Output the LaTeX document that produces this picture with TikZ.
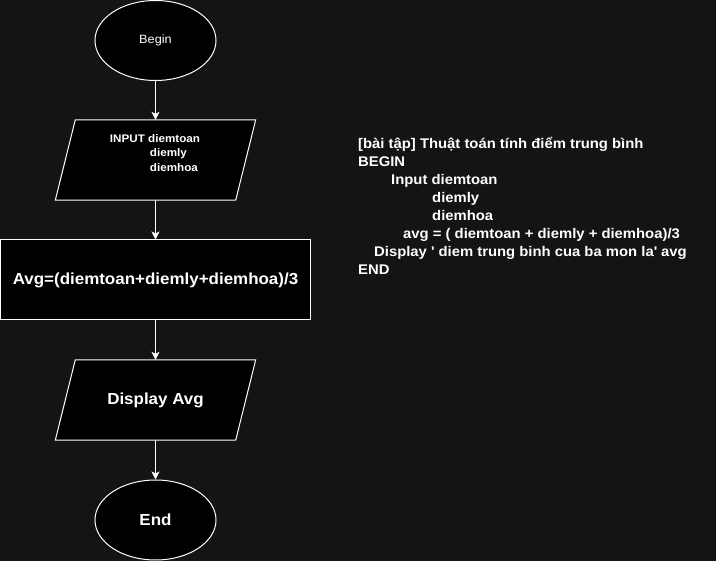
\documentclass[tikz,border=0pt]{standalone}
\usepackage{fontspec}
\setmainfont[FakeStretch=1.06]{Liberation Sans}
\usetikzlibrary{shapes.geometric,arrows.meta,calc}
\pgfdeclarelayer{bg}
\pgfsetlayers{bg,main}
\definecolor{bgc}{RGB}{20,20,20}
\begin{document}
\begin{tikzpicture}[x=1pt,y=-1pt,
  term/.style={ellipse, draw=white, fill=black, line width=1pt, minimum width=121pt, minimum height=80pt, inner sep=0pt, text=white},
  proc/.style={rectangle, draw=white, fill=black, line width=1pt, minimum width=310pt, minimum height=80pt, inner sep=0pt, text=white},
  io/.style={rectangle, minimum width=200pt, minimum height=80pt, inner sep=0pt, text=white},
  para/.style={draw=white, fill=black, line width=1pt},
  arr/.style={draw=white, line width=1pt, -{Stealth[length=8pt,width=8pt,inset=2pt]}},
  big/.style={font=\fontsize{16}{19}\selectfont\bfseries},
  code/.style={anchor=base west, text=white, inner sep=0pt, font=\fontsize{14}{16}\selectfont\bfseries}]
\useasboundingbox (0,0) rectangle (716,561);
\begin{pgfonlayer}{bg}
\fill[bgc] (0,0) rectangle (716,561);
\end{pgfonlayer}

\node[term] (begin) at (155.5,40.5) {\fontsize{12}{14}\selectfont Begin};
\node[io] (inp) at (155.5,160) {};
\node[text=white, align=left, inner sep=0pt, font=\fontsize{11}{14.5}\selectfont\bfseries] (inptxt) at (155,153) {INPUT diemtoan\\\hspace{40pt}diemly\\\hspace{40pt}diemhoa};
\node[proc, big] (avg) at (155.5,280) {Avg=(diemtoan+diemly+diemhoa)/3};
\node[io, big] (disp) at (155.5,400) {Display Avg};
\node[term, big] (end) at (155.5,520) {End};

\begin{pgfonlayer}{bg}
\draw[para] ($(inp.north west)+(20,0)$) -- (inp.north east) -- ($(inp.south east)+(-20,0)$) -- (inp.south west) -- cycle;
\draw[para] ($(disp.north west)+(20,0)$) -- (disp.north east) -- ($(disp.south east)+(-20,0)$) -- (disp.south west) -- cycle;
\end{pgfonlayer}

\draw[arr] (begin) -- (inp);
\draw[arr] (inp) -- (avg);
\draw[arr] (avg) -- (disp);
\draw[arr] (disp) -- (end);

\node[code] (t1) at (358,149) {[bài tập] Thuật toán tính điểm trung bình};
\node[code] (t2) at (358,167) {BEGIN};
\node[code] (t3) at (391,185) {Input diemtoan};
\node[code] (t4) at (432,203) {diemly};
\node[code] (t5) at (432,221) {diemhoa};
\node[code] (t6) at (403,239) {avg = ( diemtoan + diemly + diemhoa)/3};
\node[code] (t7) at (374,257) {Display \textquotesingle{} diem trung binh cua ba mon la\textquotesingle{} avg};
\node[code] (t8) at (358,275) {END};
\end{tikzpicture}
\end{document}
